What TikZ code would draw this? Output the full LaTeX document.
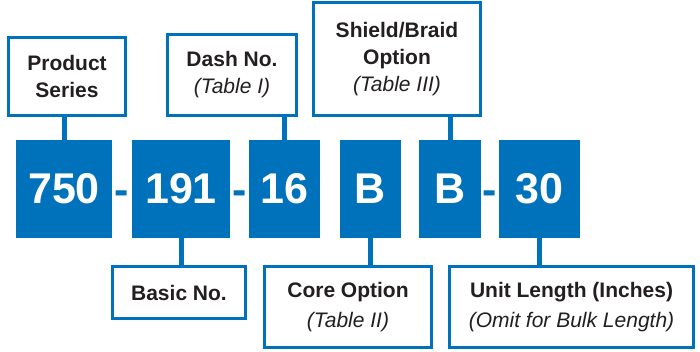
\documentclass[tikz,border=0pt]{standalone}
\usepackage{fontspec}
\setmainfont{Liberation Sans}
\definecolor{partblue}{HTML}{0072BC}
\definecolor{labelgray}{HTML}{231F20}
\begin{document}
\begin{tikzpicture}[x=1pt,y=-1pt,
    codebox/.style={rectangle,fill=partblue,text=white,inner sep=0pt,minimum height=98pt,
      font=\fontsize{43}{43}\selectfont\bfseries},
    hyph/.style={anchor=base,text=partblue,inner sep=0pt,font=\fontsize{43}{43}\selectfont\bfseries},
    labelbox/.style={rectangle,draw=partblue,line width=3pt,fill=white,align=center,inner sep=0pt,
      text=labelgray,font=\fontsize{21}{27}\selectfont},
    stem/.style={partblue,line width=5pt}]
  \useasboundingbox (0,0) rectangle (700,352);
  % part number fields
  \node[codebox,minimum width=96pt] (c750) at (64,189) {750};
  \node[codebox,minimum width=98pt] (c191) at (181,189) {191};
  \node[codebox,minimum width=71pt] (c16) at (284.5,189) {16};
  \node[codebox,minimum width=61pt] (cB1) at (370.5,189) {B};
  \node[codebox,minimum width=62pt] (cB2) at (450,189) {B};
  \node[codebox,minimum width=81pt] (c30) at (539.5,189) {30};
  \node[hyph] (h1) at (122,205) {-};
  \node[hyph] (h2) at (240,205) {-};
  \node[hyph] (h3) at (490,205) {-};
  % labels above
  \node[labelbox,minimum width=117pt,minimum height=78pt] (series) at (67,76.5) {\textbf{Product}\\\textbf{Series}};
  \node[labelbox,minimum width=129pt,minimum height=81pt] (dashno) at (232,75) {\textbf{Dash No.}\\\textit{(Table I)}};
  \node[labelbox,minimum width=167pt,minimum height=113pt] (shield) at (397,59) {\textbf{Shield/Braid}\\\textbf{Option}\\\textit{(Table III)}};
  % labels below
  \node[labelbox,minimum width=133pt,minimum height=52pt] (basic) at (179,292.5) {\textbf{Basic No.}};
  \node[labelbox,minimum width=167pt,minimum height=81pt] (core) at (348,307) {\textbf{Core Option}\\[3pt]\textit{(Table II)}};
  \node[labelbox,minimum width=244pt,minimum height=81pt] (length) at (571.5,307) {\textbf{Unit Length (Inches)}\\[3pt]\textit{(Omit for Bulk Length)}};
  % stems
  \draw[stem] (c750.north) -- (c750.north |- series.south);
  \draw[stem] (c16.north) -- (c16.north |- dashno.south);
  \draw[stem] (cB2.north) -- (cB2.north |- shield.south);
  \draw[stem] (c191.south) -- (c191.south |- basic.north);
  \draw[stem] (cB1.south) -- (cB1.south |- core.north);
  \draw[stem] (c30.south) -- (c30.south |- length.north);
\end{tikzpicture}
\end{document}
